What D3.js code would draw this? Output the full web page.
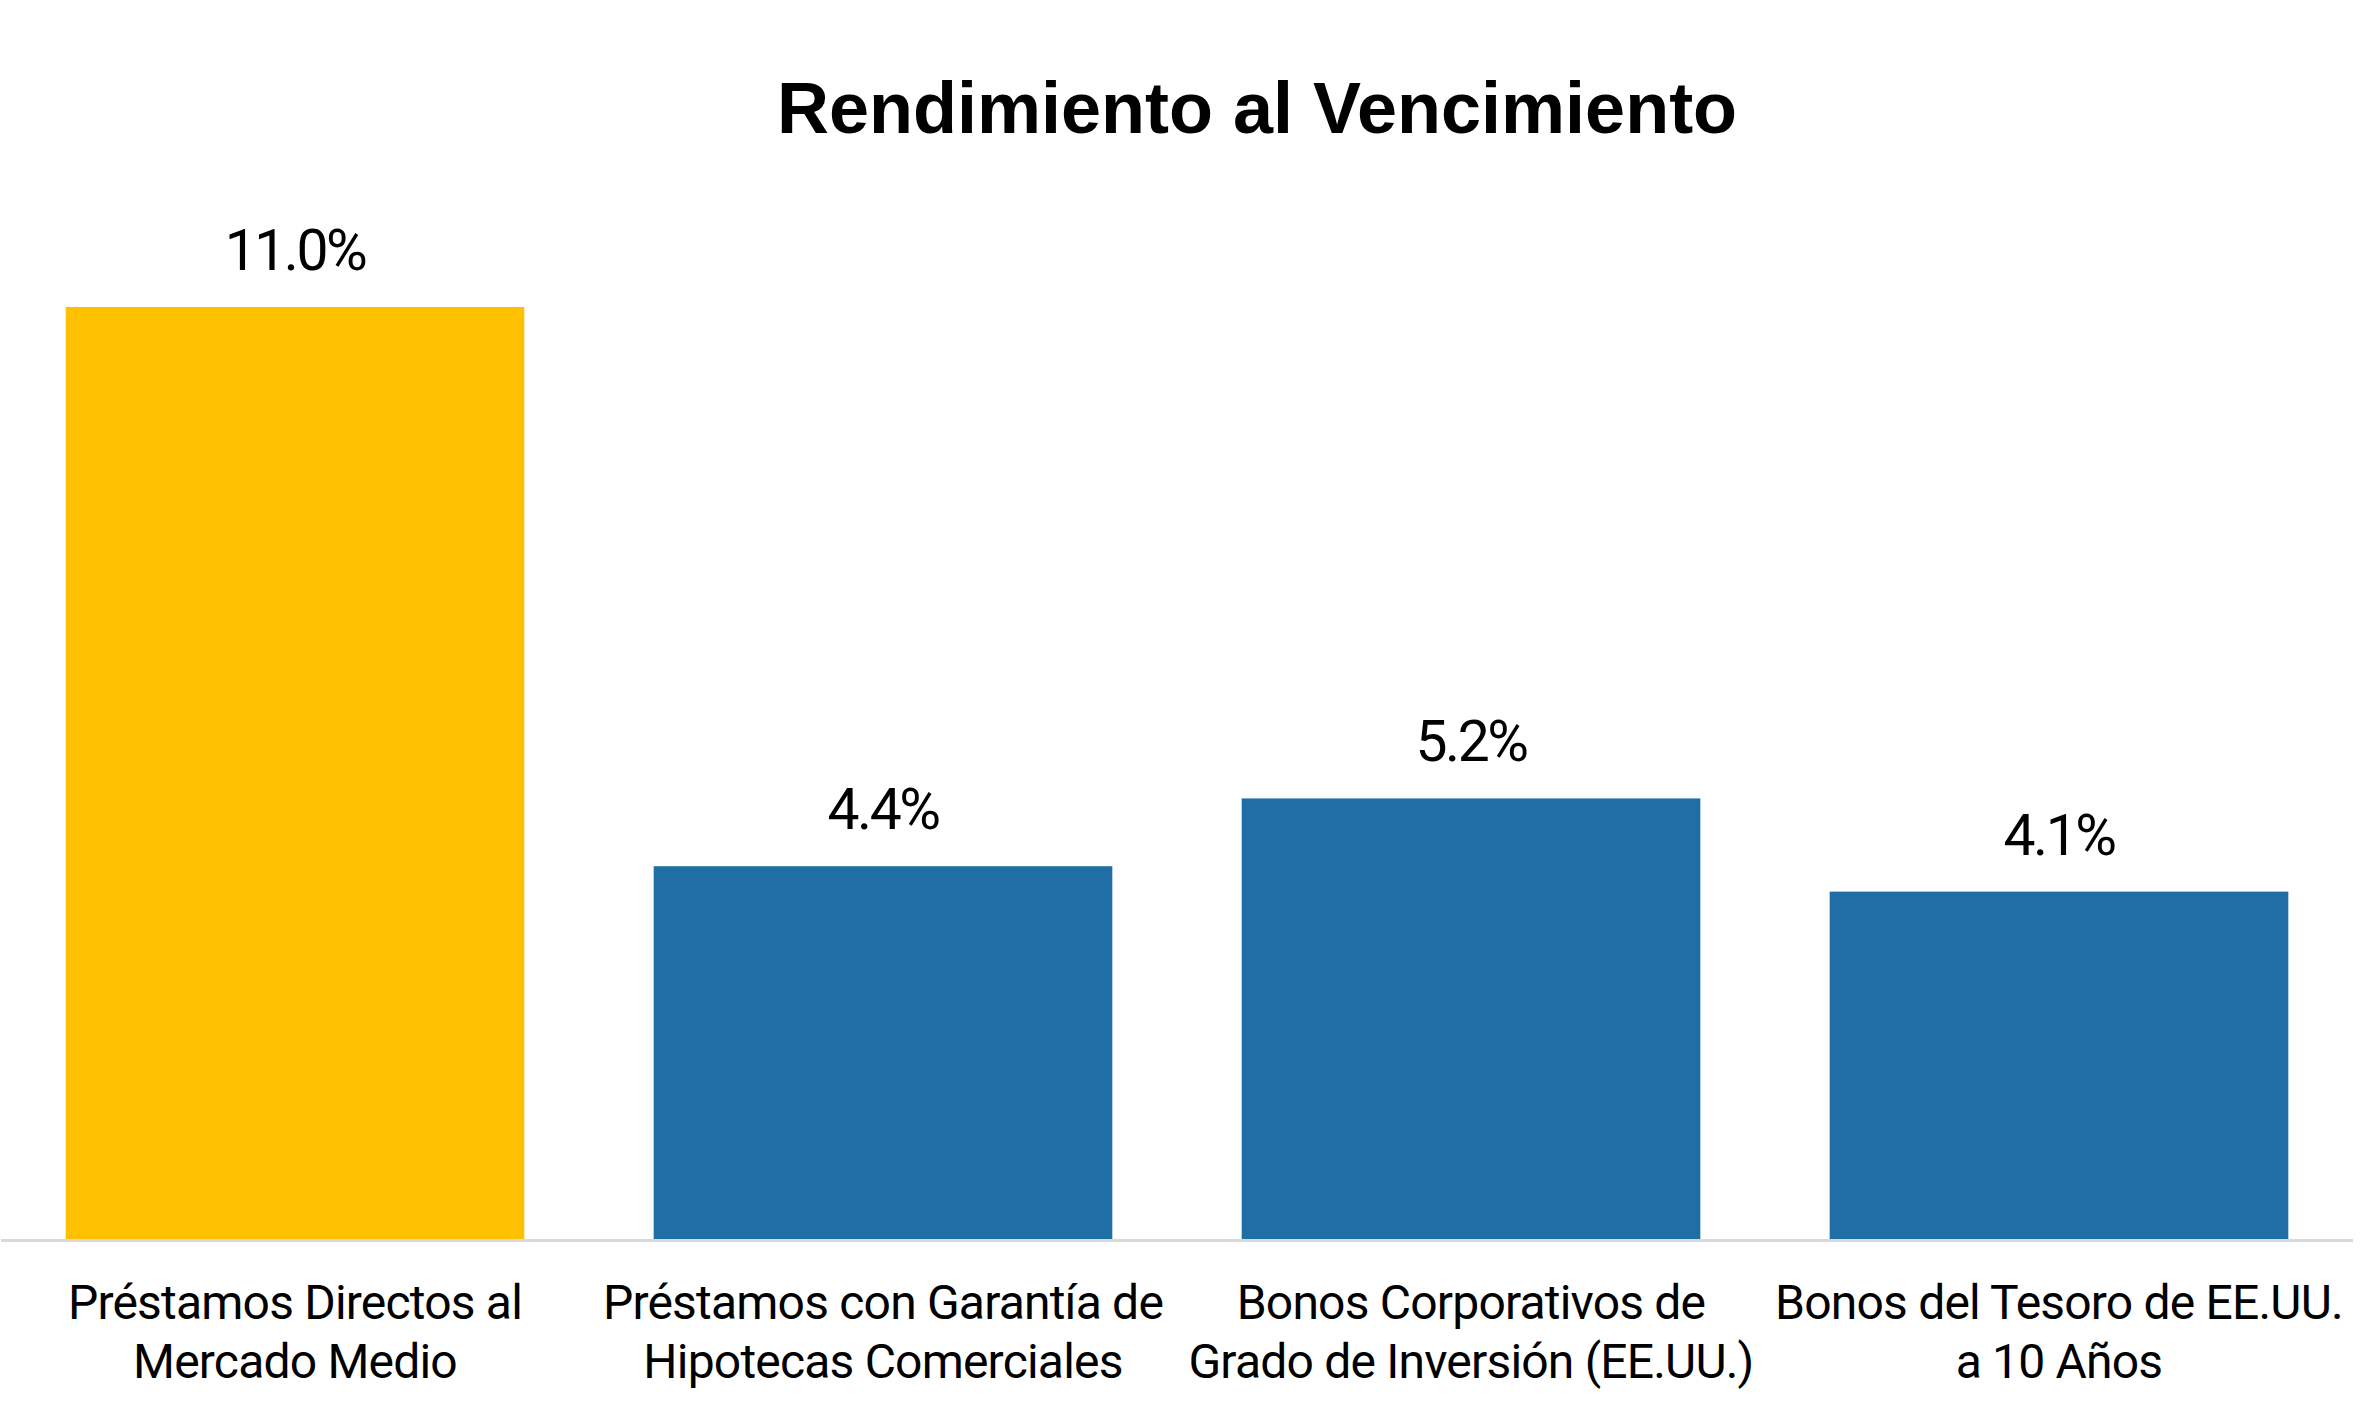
<!DOCTYPE html>
<html><head><meta charset="utf-8">
<script src="https://cdn.jsdelivr.net/npm/d3@7"></script>
<style>html,body{margin:0;padding:0;background:#fff;}</style>
</head><body>
<script>
const categories = [
  ["Préstamos Directos al", "Mercado Medio"],
  ["Préstamos con Garantía de", "Hipotecas Comerciales"],
  ["Bonos Corporativos de", "Grado de Inversión (EE.UU.)"],
  ["Bonos del Tesoro de EE.UU.", "a 10 Años"]
];
const values = [11.0, 4.4, 5.2, 4.1];
const valueLabels = ["11.0%", "4.4%", "5.2%", "4.1%"];
const barColors = ["#FFC000", "#1F6EA5", "#1F6EA5", "#1F6EA5"];
const title = "Rendimiento al Vencimiento";

const W = 2373, H = 1408;
const svg = d3.select("body").append("svg").attr("width", W).attr("height", H);

const x = d3.scaleBand().domain(d3.range(values.length)).range([1, 2353]).paddingInner(0.22).paddingOuter(0.11);
const y = d3.scaleLinear().domain([0, 11]).range([1239, 307]);

svg.append("text").attr("x", 1257).attr("y", 133).attr("text-anchor", "middle")
  .attr("font-family", "Liberation Sans, Arial, sans-serif").attr("font-weight", "bold")
  .attr("font-size", 72).attr("fill", "#000").text(title);

svg.selectAll("rect.bar").data(values).join("rect").attr("class", "bar")
  .attr("x", (d, i) => x(i)).attr("width", x.bandwidth())
  .attr("y", d => y(d)).attr("height", d => y(0) - y(d))
  .attr("fill", (d, i) => barColors[i]);

svg.append("line").attr("x1", 1).attr("x2", 2353).attr("y1", y(0) + 1.5).attr("y2", y(0) + 1.5)
  .attr("stroke", "#d9d9d9").attr("stroke-width", 3);

svg.selectAll("text.val").data(values).join("text").attr("class", "val")
  .attr("x", (d, i) => x(i) + x.bandwidth() / 2).attr("y", d => y(d) - 37)
  .attr("text-anchor", "middle").attr("font-family", "Roboto, sans-serif")
  .attr("font-size", 57).attr("letter-spacing", -2.5).attr("fill", "#000").text((d, i) => valueLabels[i]);

const cat = svg.selectAll("text.cat").data(categories).join("text").attr("class", "cat")
  .attr("text-anchor", "middle").attr("font-family", "Roboto, sans-serif")
  .attr("font-size", 48).attr("letter-spacing", -0.8).attr("fill", "#000");
cat.each(function(lines, i) {
  const t = d3.select(this);
  lines.forEach((l, k) => {
    t.append("tspan").attr("x", x(i) + x.bandwidth() / 2).attr("y", 1319 + k * 59).text(l);
  });
});
</script>
</body></html>
